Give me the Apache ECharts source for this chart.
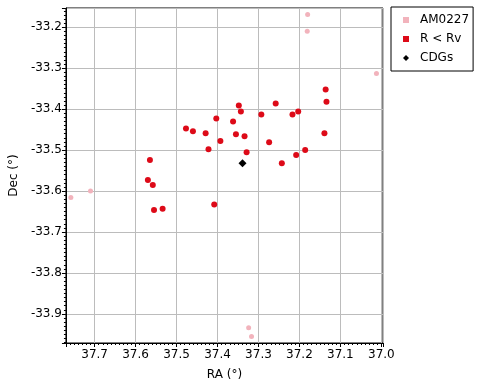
<!DOCTYPE html>
<html>
<head>
<meta charset="utf-8">
<script src="https://cdn.jsdelivr.net/npm/echarts@6/dist/echarts.min.js"></script>
<style>html,body{margin:0;padding:0;background:#fff}#c{width:477px;height:386px}</style>
</head>
<body>
<div id="c"></div>
<script>
// RA, Dec pairs
const am0227 = [
  [37.180, -33.169], [37.181, -33.210], [37.012, -33.313],
  [37.710, -33.600], [37.758, -33.616], [37.324, -33.934], [37.317, -33.955]
];
const rLessRv = [
  [37.136, -33.352], [37.134, -33.382], [37.258, -33.386], [37.348, -33.391],
  [37.343, -33.406], [37.203, -33.406], [37.217, -33.413], [37.293, -33.413],
  [37.403, -33.423], [37.362, -33.430], [37.429, -33.459], [37.355, -33.461],
  [37.334, -33.466], [37.139, -33.459], [37.393, -33.478], [37.274, -33.481],
  [37.422, -33.498], [37.186, -33.500], [37.329, -33.505], [37.208, -33.512],
  [37.243, -33.532], [37.408, -33.633], [37.477, -33.447], [37.460, -33.454],
  [37.565, -33.524], [37.570, -33.573], [37.558, -33.585], [37.555, -33.646],
  [37.534, -33.643]
];
const cdgs = [[37.339, -33.532]];
const seriesNames = ['AM0227', 'R < Rv', 'CDGs'];
const xTitle = 'RA (°)';
const yTitle = 'Dec (°)';

const font = 'DejaVu Sans';
const chart = echarts.init(document.getElementById('c'), null, {renderer: 'canvas'});
const axisCommon = {
  type: 'value',
  nameLocation: 'middle',
  nameTextStyle: {fontFamily: font, fontSize: 12, color: '#000'},
  axisLine: {show: true, onZero: false, lineStyle: {color: '#000', width: 1}},
  axisTick: {show: true, length: 4, inside: false, lineStyle: {color: '#000'}},
  minorTick: {show: true, splitNumber: 10, length: 2, lineStyle: {color: '#000'}},
  splitLine: {show: true, lineStyle: {color: '#bcbcbc', width: 1}},
  axisLabel: {fontFamily: font, fontSize: 12, color: '#000', showMinLabel: false, showMaxLabel: false,
    formatter: v => v.toFixed(1)}
};
chart.setOption({
  animation: false,
  backgroundColor: '#fff',
  grid: {left: 58, right: 94, top: 8, bottom: 40, show: true, borderColor: '#000', borderWidth: 1},
  xAxis: Object.assign({}, axisCommon, {
    name: xTitle, nameGap: 26, min: 36.996, max: 37.770, inverse: true, splitNumber: 8,
    axisLabel: Object.assign({}, axisCommon.axisLabel, {margin: 6})
  }),
  yAxis: Object.assign({}, axisCommon, {
    name: yTitle, nameGap: 44, min: -33.971, max: -33.153, splitNumber: 8,
    axisLabel: Object.assign({}, axisCommon.axisLabel, {margin: 4})
  }),
  legend: {
    orient: 'vertical', left: 391, top: 7,
    borderColor: '#000', borderWidth: 1, borderRadius: 0,
    padding: [6, 4, 6, 12], itemGap: 5, itemWidth: 6, itemHeight: 6,
    textStyle: {fontFamily: font, fontSize: 12, color: '#000', lineHeight: 14, padding: [0, 0, 0, 6]},
    data: [
      {name: seriesNames[0], icon: 'rect'},
      {name: seriesNames[1], icon: 'rect'},
      {name: seriesNames[2], icon: 'diamond'}
    ]
  },
  series: [
    {name: seriesNames[0], type: 'scatter', data: am0227, symbol: 'circle', symbolSize: 5,
      itemStyle: {color: '#f2b3bc', opacity: 1}},
    {name: seriesNames[1], type: 'scatter', data: rLessRv, symbol: 'circle', symbolSize: 6,
      itemStyle: {color: '#dd0a18', opacity: 1}},
    {name: seriesNames[2], type: 'scatter', data: cdgs, symbol: 'diamond', symbolSize: 8,
      itemStyle: {color: '#000', opacity: 1}}
  ]
});
</script>
</body>
</html>
